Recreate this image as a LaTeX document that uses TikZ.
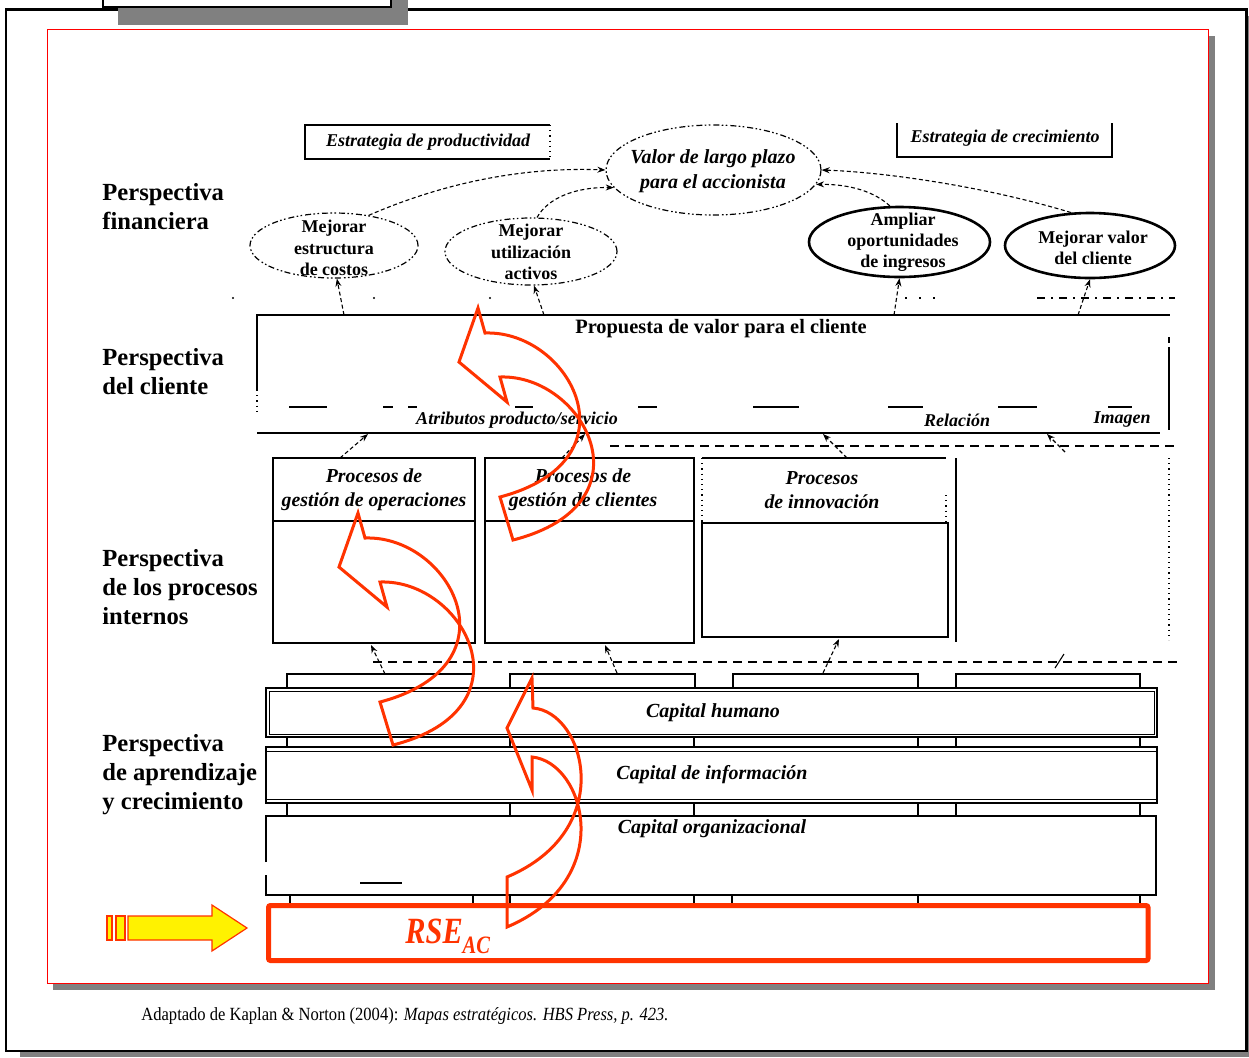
\documentclass[tikz,border=0pt]{standalone}
\usepackage{fontspec}
\setmainfont{Liberation Serif}
\usetikzlibrary{arrows.meta,shapes.geometric}
\definecolor{rsered}{HTML}{FF3300}
\definecolor{shgray}{HTML}{808080}
\begin{document}
\begin{tikzpicture}[x=0.5pt,y=-0.5pt,
  perspec/.style={anchor=west,align=left,inner sep=0,font=\fontsize{12.3}{14.5}\selectfont\bfseries},
  ell/.style={ellipse,inner sep=0,line width=0.6pt,dash pattern=on 3pt off 1.5pt on 0.8pt off 1.2pt on 0.8pt off 1.2pt},
  ellsolid/.style={ellipse,inner sep=0,line width=1.3pt},
  etext/.style={align=center,inner sep=0,font=\fontsize{9}{10.6}\selectfont\bfseries},
  vtext/.style={align=center,inner sep=0,font=\fontsize{10}{12.5}\selectfont\bfseries\itshape},
  itext/.style={inner sep=0,font=\fontsize{9}{11}\selectfont\bfseries\itshape},
  ptext/.style={align=center,inner sep=0,font=\fontsize{9.9}{12}\selectfont\bfseries\itshape},
  ctext/.style={inner sep=0,font=\fontsize{10}{12}\selectfont\bfseries\itshape},
  conn/.style={line width=0.55pt,dash pattern=on 2pt off 1.3pt,-{Stealth[length=4pt,width=3pt]}},
  dline/.style={line width=0.7pt,dash pattern=on 4.5pt off 3pt},
  thinl/.style={line width=0.6pt},
  thickl/.style={line width=1.4pt},
  redarrow/.style={draw=rsered,line width=1.5pt,line join=miter},
]
\useasboundingbox (0,0) rectangle (1249,1057);
\fill[white] (0,0) rectangle (1249,1057);
% outer frame
\fill[shgray] (20,16) rectangle (1249,1057);
\draw[line width=1.1pt,fill=white] (6,9.5) rectangle (1246.5,1051);
% top tab
\fill[shgray] (118,-5) rectangle (408,25);
\draw[thinl,fill=white] (103,-5) rectangle (391,7);
% red frame
\fill[shgray] (53,36) rectangle (1215,990);
\draw[red,line width=0.5pt,fill=white] (47,29.5) rectangle (1208,983);

% perspective labels
\node[perspec] (pf) at (102,207) {Perspectiva\\financiera};
\node[perspec] (pc) at (102,372) {Perspectiva\\del cliente};
\node[perspec] (pi) at (102,587) {Perspectiva\\de los procesos\\internos};
\node[perspec] (pa) at (102,775) {Perspectiva\\de aprendizaje\\y crecimiento};

% strategy boxes
\draw[thinl] (550,125) -- (305,125) -- (305,159) -- (550,159);
\draw[thinl,dotted] (550,125) -- (550,159);
\node[itext] (sp) at (428,142) {Estrategia de productividad};
\draw[thinl] (897,123) -- (897,157) -- (1112,157) -- (1112,123);
\node[itext] (sc) at (1005,138) {Estrategia de crecimiento};

% financial ellipses
\node[ell,draw,minimum width=107.5pt,minimum height=45pt] (valor) at (713.5,170) {};
\node[vtext] (valort) at (713,171) {Valor de largo plazo\\para el accionista};
\node[ell,draw,minimum width=84pt,minimum height=32.5pt] (cost) at (334,245.5) {};
\node[etext] (costt) at (334,248) {Mejorar\\estructura\\de costos};
\node[ell,draw,minimum width=86pt,minimum height=33.5pt] (util) at (531,251.5) {};
\node[etext] (utilt) at (531,252) {Mejorar\\utilización\\activos};
\node[ellsolid,draw,minimum width=90.5pt,minimum height=35pt] (ampl) at (899.5,242) {};
\node[etext] (amplt) at (903,242) {Ampliar\\oportunidades\\de ingresos};
\node[ellsolid,draw,minimum width=85pt,minimum height=32.5pt] (mval) at (1090,245.5) {};
\node[etext] (mvalt) at (1093,248) {Mejorar valor\\del cliente};

\draw[conn] (cost.41) .. controls (450,180) and (530,167) .. (valor.west);
\draw[conn] (util.80) .. controls (548,198) and (575,187) .. (valor.190);
\draw[conn] (ampl.105) .. controls (875,192) and (850,184) .. (valor.352);
\draw[conn] (mval.120) .. controls (980,185) and (880,172) .. (valor.east);

% faint line above customer box
\fill (233,298) circle (0.6pt);
\fill (374,298) circle (0.6pt);
\fill (490,298) circle (0.6pt);
\draw[thinl,dash pattern=on 1pt off 6pt] (905,298) -- (935,298);
\draw[thinl,dash pattern=on 4pt off 3pt on 1pt off 3pt] (1037,298) -- (1175,298);

% customer perspective box
\draw[line width=0.9pt] (257,390) -- (257,315) -- (1170,315);
\draw[thinl,dotted] (257,390) -- (257,412);
\draw[line width=0.9pt] (257,433) -- (1160,433);
\draw[thinl] (1169,352) -- (1169,430);
\draw[thinl,densely dashed] (1169,337) -- (1169,352);
\foreach \a/\b in {289/327,383/393,408/417,515/533,638/657,753/799,888/923,998/1037,1108/1132}
  \draw[thinl] (\a,407) -- (\b,407);
\node[inner sep=0,font=\fontsize{10.2}{12}\selectfont\bfseries] (propt) at (721,329) {Propuesta de valor para el cliente};
\node[itext] (attr) at (517,420) {Atributos producto/servicio};
\node[itext] (rel) at (957,420) {Relación};
\node[itext] (img) at (1122,420) {Imagen};

\coordinate (pA) at (344,315);
\coordinate (pB) at (544,315);
\coordinate (pC) at (894,315);
\coordinate (pD) at (1078,315);
\draw[conn] (pA) -- (cost.275);
\draw[conn] (pB) -- (util.275);
\draw[conn] (pC) -- (ampl.270);
\draw[conn] (pD) -- (mval.270);

% dashed separators
\draw[dline] (610,446) -- (1180,446);
\draw[dline] (373,662) -- (1180,662);

% internal processes
\draw[thickl] (273,458) rectangle (475,643);
\draw[line width=0.9pt] (273,521) -- (475,521);
\draw[line width=0.9pt] (485,458) rectangle (694,643);
\draw[thickl] (485,643) -- (694,643);
\draw[line width=1.2pt] (485,521) -- (694,521);
\draw[line width=0.8pt] (702,458) -- (946,458);
\draw[thinl,dotted] (702,458) -- (702,523);
\draw[thinl,dotted] (946,495) -- (946,523);
\draw[line width=0.7pt] (702,523) rectangle (948,637);
\draw[line width=0.7pt] (956,458) -- (956,642);
\draw[thinl,dotted] (1169,458) -- (1169,640);
\node[ptext] (p1t) at (374,490) {Procesos de\\gestión de operaciones};
\node[ptext] (p2t) at (583,490) {Procesos de\\gestión de clientes};
\node[ptext] (p3t) at (822,490) {Procesos\\de innovación};

\coordinate (b1t) at (340,458); \coordinate (q1) at (368,434);
\coordinate (b2t) at (562,458); \coordinate (q2) at (585,434);
\coordinate (b3t) at (847,458); \coordinate (q3) at (823,434);
\coordinate (b4t) at (1065,452); \coordinate (q4) at (1047,434);
\draw[conn] (b1t) -- (q1);
\draw[conn] (b2t) -- (q2);
\draw[conn] (b3t) -- (q3);
\draw[conn] (b4t) -- (q4);

% learning and growth
\draw[thinl] (287,688) -- (287,674) -- (472,674);
\draw[thickl] (510,688) -- (510,674) -- (695,674) -- (695,688);
\draw[thinl] (733,688) -- (733,674) -- (918,674) -- (918,688);
\draw[thinl] (956,688) -- (956,674) -- (1140,674) -- (1140,688);
\draw[line width=0.8pt] (266,688) rectangle (1157,737);
\draw[line width=0.5pt] (269,691) rectangle (1154,734);
\draw[line width=0.8pt] (266,747) rectangle (1157,803);
\draw[line width=0.5pt] (266,751) -- (1157,751);
\draw[line width=0.5pt] (266,799) -- (1157,799);
\draw[line width=0.8pt] (266,862) -- (266,816) -- (1156,816) -- (1156,895) -- (266,895) -- (266,875);
\draw[thinl] (360,883) -- (402,883);
\foreach \x in {287,918,956,1140} {
  \draw[thinl] (\x,737) -- (\x,747);
  \draw[thinl] (\x,803) -- (\x,816);
}
\foreach \x in {510,694} {
  \draw[thickl] (\x,737) -- (\x,747);
  \draw[thickl] (\x,803) -- (\x,816);
  \draw[thickl] (\x,895) -- (\x,905);
}
\foreach \x in {290,473,732,918,1140}
  \draw[thinl] (\x,895) -- (\x,905);
\node[ctext] (ch) at (713,713) {Capital humano};
\node[ctext] (ci) at (712,775) {Capital de información};
\node[ctext] (co) at (712,829) {Capital organizacional};

\coordinate (k1) at (385,674); \coordinate (r1) at (371,645);
\coordinate (k2) at (617,673); \coordinate (r2) at (605,645);
\coordinate (k3) at (823,673); \coordinate (r3) at (839,639);
\coordinate (k4) at (1055,668); \coordinate (r4) at (1064,654);
\draw[conn] (k1) -- (r1);
\draw[conn] (k2) -- (r2);
\draw[conn] (k3) -- (r3);
\draw[line width=0.55pt] (k4) -- (r4);

% RSE box
\draw[rsered,line width=2.5pt,rounded corners=1pt] (268.5,905.5) rectangle (1148,960.5);
\node[anchor=base west,inner sep=0,text=rsered] (rse) at (405,943)
  {\scalebox{0.82}[1]{\fontsize{18.5}{19}\selectfont\bfseries\itshape RSE\raisebox{-5pt}{\fontsize{12.5}{13}\selectfont AC}}};

% yellow arrow
\draw[rsered,line width=0.6pt,fill=yellow] (107,916) rectangle (112,940);
\draw[rsered,line width=0.6pt,fill=yellow] (116,916) rectangle (125,940);
\draw[rsered,line width=0.6pt,fill=yellow] (128,916) -- (212,916) -- (212,905) -- (247,928) -- (212,951) -- (212,940) -- (128,940) -- cycle;

% red curved arrows
\draw[redarrow] (478,308) -- (485,333) .. controls (570,330) and (640,460) .. (500,497) -- (513,540) .. controls (654,504) and (584,374) .. (500,377) -- (507,402) -- (459,362) -- cycle;
\draw[redarrow] (358,513) -- (365,538) .. controls (450,535) and (520,665) .. (380,702) -- (393,745) .. controls (534,709) and (464,579) .. (380,582) -- (387,607) -- (339,567) -- cycle;
\draw[redarrow] (532,678) -- (533,708) .. controls (585,712) and (618,830) .. (507,877) -- (507,927) .. controls (618,880) and (585,762) .. (532,757) -- (532,790) -- (507,728) -- cycle;

% footer
\node[anchor=base west,inner sep=0] (foot) at (141,1020)
  {\scalebox{0.89}[1]{\fontsize{9.3}{11}\selectfont Adaptado de Kaplan \& Norton (2004): \textit{Mapas estratégicos. HBS Press, p. 423.}}};
\end{tikzpicture}
\end{document}
